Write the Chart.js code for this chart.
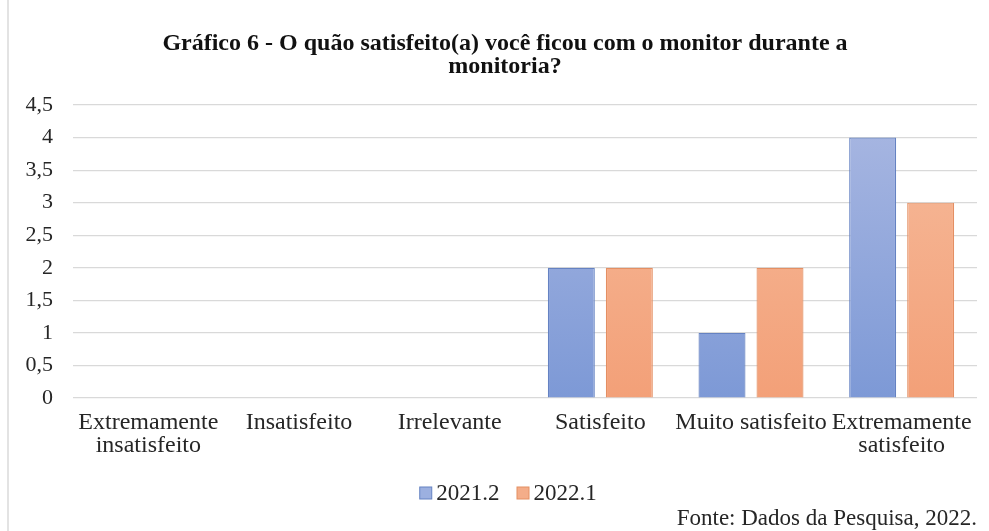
<!DOCTYPE html>
<html>
<head>
<meta charset="utf-8">
<script src="https://cdn.jsdelivr.net/npm/chart.js@4"></script>
<style>
html,body{margin:0;padding:0;background:#fff;}
#wrap{position:relative;width:989px;height:531px;overflow:hidden;}
#frame{position:absolute;left:7px;top:0;width:2px;height:531px;background:#e3e3e3;}
#fonte{position:absolute;right:12px;top:506px;font-family:"Liberation Serif","Times New Roman",serif;font-size:23px;line-height:24px;color:#262626;white-space:nowrap;}
canvas{position:absolute;left:0;top:0;}
</style>
</head>
<body>
<div id="wrap">
<div id="frame"></div>
<canvas id="c" width="989" height="531"></canvas>
<div id="fonte">Fonte: Dados da Pesquisa, 2022.</div>
</div>
<script>
const categories = [
  ["Extremamente", "insatisfeito"],
  "Insatisfeito",
  "Irrelevante",
  "Satisfeito",
  "Muito satisfeito",
  ["Extremamente", "satisfeito"]
];
const seriesNames = ["2021.2", "2022.1"];
const values2021 = [0, 0, 0, 2, 1, 4];
const values2022 = [0, 0, 0, 2, 2, 3];
const yTicks = [0, 0.5, 1, 1.5, 2, 2.5, 3, 3.5, 4, 4.5];
const titleLines = ["Gráfico 6 - O quão satisfeito(a) você ficou com o monitor durante a", "monitoria?"];

const serif = '"Liberation Serif","Times New Roman",serif';
const legendSwatch = ['#9cb0e0', '#f4ad89'];

function grad(ctx, top, bottom) {
  const chart = ctx.chart;
  const area = chart.chartArea;
  if (!area) return bottom;
  const g = chart.ctx.createLinearGradient(0, area.top, 0, area.bottom);
  g.addColorStop(0, top);
  g.addColorStop(1, bottom);
  return g;
}

const chartTitle = {
  id: 'chartTitle',
  afterDraw(chart) {
    const ctx = chart.ctx;
    ctx.save();
    ctx.font = 'bold 24px ' + serif;
    ctx.fillStyle = '#111';
    ctx.textAlign = 'center';
    ctx.textBaseline = 'middle';
    titleLines.forEach((t, i) => ctx.fillText(t, 505, 44 + i * 23));
    ctx.restore();
  }
};

const bottomLegend = {
  id: 'bottomLegend',
  afterDraw(chart) {
    const ctx = chart.ctx;
    const ds = chart.data.datasets;
    const box = 13, gap = 4, between = 17, cy = 493, cx = 508;
    ctx.save();
    ctx.font = '23px ' + serif;
    ctx.textBaseline = 'middle';
    ctx.textAlign = 'left';
    const widths = ds.map(d => box + gap + ctx.measureText(d.label).width);
    const total = widths.reduce((a, b) => a + b, 0) + between * (ds.length - 1);
    let x = cx - total / 2;
    ds.forEach((d, i) => {
      ctx.fillStyle = legendSwatch[i];
      ctx.fillRect(x + 0.5, cy - box / 2 + 0.5, box - 1, box - 1);
      ctx.strokeStyle = d.borderColor;
      ctx.lineWidth = 1;
      ctx.strokeRect(x + 0.5, cy - box / 2 + 0.5, box - 1, box - 1);
      ctx.fillStyle = '#262626';
      ctx.fillText(d.label, x + box + gap, cy + 1);
      x += widths[i] + between;
    });
    ctx.restore();
  }
};

new Chart(document.getElementById('c'), {
  type: 'bar',
  data: {
    labels: categories,
    datasets: [
      {
        label: seriesNames[0],
        data: values2021,
        backgroundColor: (ctx) => grad(ctx, '#aab8e2', '#7d99d6'),
        borderColor: '#6582c2',
        borderWidth: 1.2,
        categoryPercentage: 0.77,
        barPercentage: 0.81
      },
      {
        label: seriesNames[1],
        data: values2022,
        backgroundColor: (ctx) => grad(ctx, '#f6bc9d', '#f3a078'),
        borderColor: '#e48f63',
        borderWidth: 1.2,
        categoryPercentage: 0.77,
        barPercentage: 0.81
      }
    ]
  },
  plugins: [chartTitle, bottomLegend],
  options: {
    responsive: false,
    animation: false,
    layout: { padding: { left: 10, right: 12, top: 105, bottom: 73 } },
    plugins: {
      title: { display: false },
      legend: { display: false },
      tooltip: { enabled: false }
    },
    scales: {
      x: {
        grid: { display: false, drawTicks: false },
        border: { display: false },
        afterFit: (scale) => { scale.height = 60; },
        ticks: {
          color: '#262626',
          font: { family: serif, size: 24, lineHeight: 0.96 },
          padding: 13,
          maxRotation: 0,
          autoSkip: false
        }
      },
      y: {
        min: 0,
        max: 4.5,
        afterBuildTicks: (scale) => { scale.ticks = yTicks.map(v => ({ value: v })); },
        afterFit: (scale) => { scale.width = 63; },
        grid: { color: '#d9d9d9', lineWidth: 1.2, drawTicks: false },
        border: { display: false },
        ticks: {
          color: '#262626',
          font: { family: serif, size: 22 },
          padding: 20,
          callback: (v) => String(v).replace('.', ',')
        }
      }
    }
  }
});
</script>
</body>
</html>
